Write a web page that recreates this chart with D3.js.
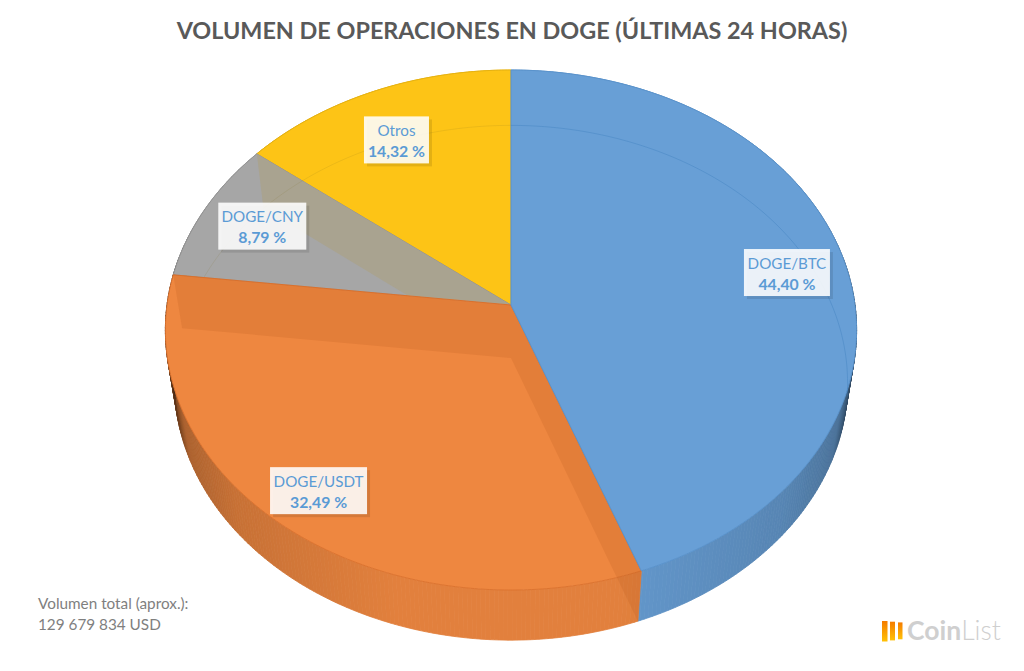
<!DOCTYPE html>
<html>
<head>
<meta charset="utf-8">
<script src="https://cdn.jsdelivr.net/npm/d3@7"></script>
<style>
  html, body { margin: 0; padding: 0; background: #fff; }
  svg { display: block; font-family: Lato, "Open Sans", sans-serif; }
  .chart-title { font-size: 23.4px; font-weight: 700; fill: #595959; text-anchor: middle; }
  .slice-label { font-size: 15.2px; fill: #5b9bd5; text-anchor: middle; }
  .slice-value { font-size: 15.8px; font-weight: 700; fill: #5b9bd5; text-anchor: middle; }
  .footnote { font-size: 15.3px; fill: #7f7f7f; }
</style>
</head>
<body>
<svg id="chart" width="1024" height="671"></svg>
<script>
const categories = ['DOGE/BTC', 'DOGE/USDT', 'DOGE/CNY', 'Otros'];
const shares = [44.40, 32.49, 8.79, 14.32];
const sliceColors = ['#689fd6', '#ee8740', '#a6a6a6', '#fdc416'];
const sliceStrokes = ['#5a93cc', '#dd7430', '#969696', '#e6b212'];
const titleText = 'VOLUMEN DE OPERACIONES EN DOGE (ÚLTIMAS 24 HORAS)';
const footnoteLines = ['Volumen total (aprox.):', '129 679 834 USD'];

// Perspective of the tilted pie: k is how much nearer the front edge sits
const k = 0.0962;
const topDisc = {cx: 511, cy: 305, a: 344, b: 257.6};
const baseDisc = {cx: 511, cy: 358, a: 335, b: 255};

function project(angle, disc, r = 1) {
  const u = r * Math.sin(angle), v = -r * Math.cos(angle), w = 1 - k * v;
  return [disc.cx + disc.a * u / w, disc.cy + disc.b * v / w];
}

function rim(start, end, disc) {
  const n = Math.max(2, Math.ceil((end - start) / 0.01));
  return d3.range(n + 1).map(i => project(start + (end - start) * i / n, disc));
}

const svg = d3.select('#chart');
const line = d3.line();
const arcs = d3.pie().sort(null)(shares);
const byName = name => arcs[categories.indexOf(name)];

svg.append('text')
    .attr('class', 'chart-title')
    .attr('x', 512)
    .attr('y', 39)
    .text(titleText);

// Side wall, darker towards the left and right silhouette
const darken = d3.scaleLinear()
    .domain([0, 0.3, 0.75, 0.92, 0.985, 1])
    .range([0.05, 0.05, 0.16, 0.28, 0.62, 0.85])
    .clamp(true);

const wall = svg.append('g');
arcs.forEach((d, i) => {
  const step = 0.012;
  const cells = d3.range(d.startAngle, d.endAngle, step);
  const shade = a => d3.interpolateRgb(sliceColors[i], '#000')(darken(Math.abs(Math.sin(a))));
  wall.selectAll(null)
      .data(cells)
      .join('path')
      .attr('d', a => {
        const b = Math.min(a + step, d.endAngle);
        return line([project(a, topDisc), project(b, topDisc),
                     project(b, baseDisc), project(a, baseDisc)]) + 'Z';
      })
      .attr('fill', shade)
      .attr('stroke', shade)
      .attr('stroke-width', 0.8);
});

function slicePath(d) {
  return line([[topDisc.cx, topDisc.cy], ...rim(d.startAngle, d.endAngle, topDisc)]) + 'Z';
}

function cutFace(angle) {
  return line([[topDisc.cx, topDisc.cy], project(angle, topDisc),
               project(angle, baseDisc), [baseDisc.cx, baseDisc.cy]]) + 'Z';
}

function drawSlice(name) {
  const i = categories.indexOf(name);
  svg.append('path')
      .attr('d', slicePath(arcs[i]))
      .attr('fill', sliceColors[i])
      .attr('stroke', sliceStrokes[i])
      .attr('stroke-width', 1)
      .attr('stroke-linejoin', 'round');
}

function drawBaseRim(start, end, color, opacity) {
  svg.append('path')
      .attr('d', line(rim(start, end, baseDisc)))
      .attr('fill', 'none')
      .attr('stroke', color)
      .attr('stroke-opacity', opacity)
      .attr('stroke-width', 1);
}

drawSlice('Otros');
drawSlice('DOGE/CNY');

// Cut face between gray and yellow shows through the gray slice
svg.append('clipPath')
    .attr('id', 'gray-clip')
    .append('path')
    .attr('d', slicePath(byName('DOGE/CNY')));

svg.append('path')
    .attr('d', cutFace(byName('DOGE/CNY').endAngle))
    .attr('fill', '#a9a390')
    .attr('clip-path', 'url(#gray-clip)');

// Back of the base rim, faintly visible through the top; orange covers its start
drawBaseRim(byName('DOGE/CNY').startAngle, 2 * Math.PI, '#7a6a20', 0.13);

drawSlice('DOGE/USDT');

// Cut faces of the orange slice, seen through its surface
[byName('DOGE/USDT').startAngle, byName('DOGE/USDT').endAngle].forEach(angle => {
  svg.append('path')
      .attr('d', cutFace(angle))
      .attr('fill', '#b85a20')
      .attr('fill-opacity', 0.2);
});

drawSlice('DOGE/BTC');
drawBaseRim(0, 1.72, '#3f7fbf', 0.4);

// Data labels
const labelRadius = 0.82;
const labelNudge = [[2, 4], [-6, 9], [4, 0], [0, 12.5]];
const boxWidths = [86, 97, 88, 65];
const boxHeight = 47;

arcs.forEach((d, i) => {
  const [x, y] = project((d.startAngle + d.endAngle) / 2, topDisc, labelRadius);
  const g = svg.append('g')
      .attr('transform', `translate(${x + labelNudge[i][0]},${y + labelNudge[i][1]})`);

  g.append('rect')
      .attr('x', -boxWidths[i] / 2 + 3)
      .attr('y', -boxHeight / 2 + 3)
      .attr('width', boxWidths[i])
      .attr('height', boxHeight)
      .attr('fill', '#000')
      .attr('fill-opacity', 0.1);

  g.append('rect')
      .attr('x', -boxWidths[i] / 2)
      .attr('y', -boxHeight / 2)
      .attr('width', boxWidths[i])
      .attr('height', boxHeight)
      .attr('fill', '#fff')
      .attr('fill-opacity', 0.88);

  g.append('text')
      .attr('class', 'slice-label')
      .attr('y', -4)
      .text(categories[i]);

  g.append('text')
      .attr('class', 'slice-value')
      .attr('y', 17)
      .text(shares[i].toFixed(2).replace('.', ',') + ' %');
});

// Footnote
svg.append('g')
    .selectAll('text')
    .data(footnoteLines)
    .join('text')
    .attr('class', 'footnote')
    .attr('x', 38)
    .attr('y', (d, i) => 609 + i * 21)
    .text(d => d);

// CoinList logo
const grad = svg.append('linearGradient')
    .attr('id', 'logo-grad')
    .attr('x1', 0).attr('y1', 0).attr('x2', 0).attr('y2', 1);
grad.append('stop').attr('offset', 0).attr('stop-color', '#f57c00');
grad.append('stop').attr('offset', 1).attr('stop-color', '#ffc107');

const logo = svg.append('g');
[[882, 5.5], [890, 5], [898, 4.5]].forEach(([x, w], i) => {
  logo.append('rect')
      .attr('x', x)
      .attr('y', 621 + i * 0.7)
      .attr('width', w)
      .attr('height', 20.5 - i * 1.8)
      .attr('fill', 'url(#logo-grad)');
});
const logoText = logo.append('text')
    .attr('x', 907)
    .attr('y', 640)
    .attr('font-size', 26.5)
    .attr('fill', '#cfcfcf');
logoText.append('tspan').attr('font-weight', 700).text('Coin');
logoText.append('tspan').attr('font-weight', 300).text('List');
</script>
</body>
</html>
